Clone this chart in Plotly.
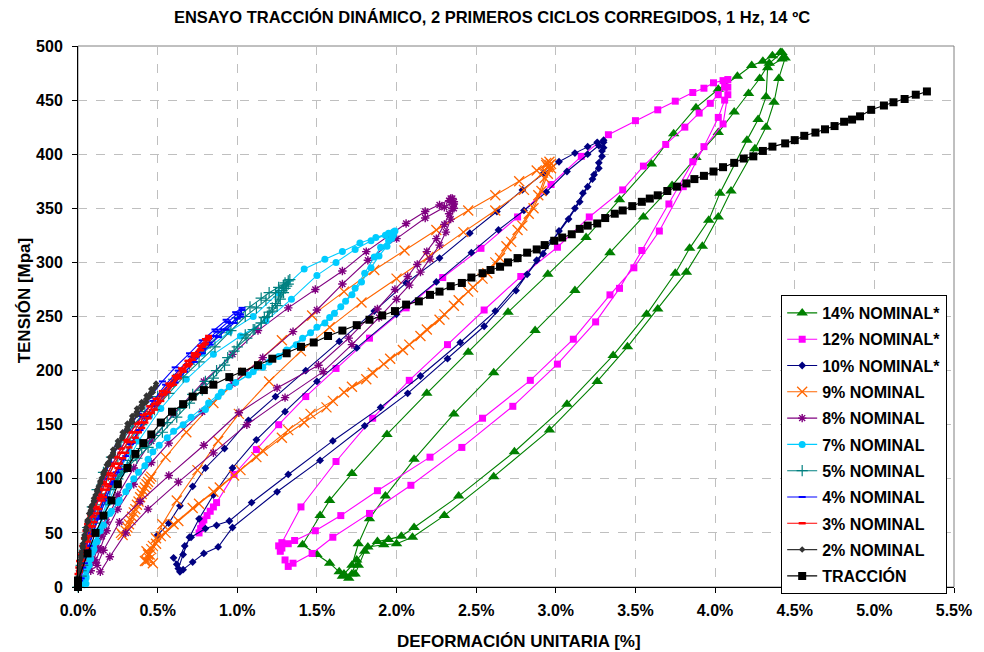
import plotly.graph_objects as go

# ---------------- DATA (strain %, stress MPa) ----------------
names = ["14% NOMINAL*", "12% NOMINAL*", "10% NOMINAL*", "9% NOMINAL", "8% NOMINAL",
         "7% NOMINAL", "5% NOMINAL", "4% NOMINAL", "3% NOMINAL", "2% NOMINAL", "TRACCIÓN"]

s14 = [(1.66,10),(1.64,14),(1.58,22),(1.50,30),(1.41,39),(1.52,66),(1.58,80),(1.72,105),(1.94,141),(2.19,179),
       (2.45,217),(2.70,254),(2.95,289),(3.19,323),(3.40,358),(3.60,391),(3.74,419),(3.88,443),(4.02,460),(4.14,472),
       (4.23,482),(4.30,486),(4.36,491),(4.41,494),
       (4.44,489),(4.40,470),(4.37,448),(4.32,425),(4.25,405),(4.10,366),(4.02,342),(3.92,315),(3.82,291),(3.64,257),
       (3.45,222),(3.26,190),(2.96,145),(2.61,102),(2.30,66),(2.10,46),(2.00,40),(1.92,39),(1.82,37),(1.75,25),
       (1.72,12),(1.70,8),(1.67,12),
       (1.72,20),(1.76,40),(1.83,63),(1.93,84),(2.11,118),(2.36,160),(2.61,198),(2.87,237),(3.12,274),(3.34,309),
       (3.55,342),(3.73,371),(3.88,397),(4.02,420),(4.12,439),(4.21,456),(4.28,470),(4.34,484),(4.42,494),
       (4.42,488),(4.33,480),(4.32,453),(4.27,432),(4.20,413),(4.03,364),(3.96,339),(3.84,313),(3.75,290),(3.57,252),
       (3.36,214),(3.07,169),(2.74,125),(2.39,84),(2.11,55),(2.03,47),(1.95,44),(1.88,42),(1.80,33),(1.76,20),(1.74,12)]

s12 = [(0.76,50),(0.77,54),(0.78,58),(0.79,62),(0.81,66),(0.83,70),(0.85,74),(0.87,78),(0.98,104),(1.12,127),
       (1.26,150),(1.43,176),(1.62,202),(1.83,230),(2.06,258),(2.29,286),(2.53,313),(2.76,342),(2.97,372),(3.16,398),
       (3.33,418),(3.50,431),(3.64,441),(3.75,449),(3.86,457),(3.93,461),(3.99,466),(4.05,468),(4.08,469),
       (4.08,462),(4.06,450),(4.02,434),(3.93,407),(3.80,370),(3.65,329),(3.49,295),(3.34,270),(3.11,229),(2.84,191),
       (2.54,156),(2.21,120),(1.88,89),(1.65,66),(1.49,52),(1.36,43),(1.32,40),(1.28,36),(1.27,33),(1.26,38),
       (1.28,41),(1.40,74),(1.62,116),(1.85,156),(2.08,191),(2.32,224),(2.55,256),(2.78,287),(3.01,314),(3.21,342),
       (3.42,367),(3.55,389),(3.69,409),(3.81,425),(3.90,438),(3.97,447),(4.02,455),(4.06,462),
       (4.08,455),(4.05,428),(3.86,393),(3.71,354),(3.54,311),(3.40,276),(3.25,245),(3.01,206),(2.73,167),(2.41,129),
       (2.09,94),(1.83,68),(1.60,46),(1.47,31),(1.35,22),(1.32,19),(1.30,25)]

s10 = [(0.50,48),(0.57,59),(0.64,75),(0.72,93),(0.80,110),(0.92,128),(1.07,154),(1.24,176),(1.43,200),(1.64,227),
       (1.86,255),(2.06,281),(2.27,304),(2.46,327),(2.63,347),(2.79,367),(2.92,382),(3.02,393),(3.12,401),(3.20,407),
       (3.26,411),(3.30,413),
       (3.30,406),(3.29,398),(3.27,387),(3.23,377),(3.17,364),(3.12,350),(3.02,329),(2.92,308),(2.82,289),(2.62,255),
       (2.40,226),(2.15,195),(1.90,166),(1.60,135),(1.32,104),(1.09,78),(0.95,61),(0.87,57),(0.80,54),(0.71,46),
       (0.67,38),(0.62,21),(0.60,27),(0.63,17),
       (0.66,30),(0.70,46),(0.76,63),(0.85,85),(0.97,110),(1.12,136),(1.30,162),(1.50,190),(1.75,221),(2.00,252),
       (2.25,282),(2.47,309),(2.64,330),(2.80,348),(2.94,365),(3.07,384),(3.20,400),(3.27,408),(3.30,411),
       (3.29,403),(3.27,392),(3.24,381),(3.20,370),(3.15,356),(3.08,340),(2.98,320),(2.88,302),(2.75,274),(2.55,241),
       (2.32,211),(2.07,179),(1.80,149),(1.52,117),(1.25,88),(0.97,55),(0.88,37),(0.79,31),(0.72,23),(0.66,16),(0.64,14)]

s9 = [(0.28,48),(0.30,52),(0.27,50),(0.31,55),(0.32,58),(0.33,62),(0.34,65),(0.35,69),(0.36,72),(0.37,76),
      (0.38,79),(0.39,83),(0.40,86),(0.41,89),(0.42,92),(0.43,95),(0.44,97),(0.45,100),(0.46,102),
      (0.55,120),(0.68,143),(0.85,170),(1.05,198),(1.28,228),(1.47,251),(1.67,273),(1.86,293),(2.05,311),(2.25,330),
      (2.45,348),(2.62,362),(2.77,375),(2.88,385),(2.94,390),(2.96,393),(2.95,388),(2.97,391),
      (2.93,378),(2.89,362),(2.83,345),(2.76,330),(2.69,315),(2.62,300),(2.54,285),(2.45,273),(2.36,260),(2.27,247),
      (2.15,232),(2.04,219),(1.92,206),(1.81,192),(1.67,180),(1.56,166),(1.42,152),(1.28,138),(1.12,120),(0.98,103),
      (0.85,88),(0.72,73),(0.60,58),(0.52,47),(0.47,38),(0.44,30),(0.42,24),(0.45,26),(0.43,33),
      (0.46,35),(0.49,45),(0.53,58),(0.62,80),(0.75,108),(0.88,135),(1.01,160),(1.20,190),(1.40,218),(1.58,240),
      (1.78,263),(2.00,285),(2.20,305),(2.42,328),(2.62,348),(2.80,367),(2.92,383),(2.96,390),(2.94,392),(2.97,387),
      (2.95,382),(2.91,366),(2.86,350),(2.79,334),(2.72,319),(2.65,304),(2.57,290),(2.48,277),(2.39,265),(2.30,252),
      (2.19,238),(2.08,224),(1.96,211),(1.85,198),(1.72,185),(1.60,172),(1.46,160),(1.32,145),(1.16,126),(1.02,108),
      (0.89,92),(0.76,77),(0.63,61),(0.55,50),(0.49,40),(0.45,30),(0.43,24),(0.47,22)]

s8 = [(0.08,15),(0.10,25),(0.12,35),(0.15,47),(0.18,60),(0.25,85),(0.35,110),(0.46,135),(0.60,160),(0.79,190),
      (0.97,215),(1.13,237),(1.32,258),(1.49,275),(1.66,292),(1.81,310),(1.95,325),(2.06,336),(2.18,347),(2.27,353),
      (2.33,357),(2.35,359),(2.36,354),
      (2.35,350),(2.33,345),(2.30,335),(2.25,322),(2.19,310),(2.13,298),(2.07,287),(1.99,275),(1.88,257),(1.70,230),
      (1.51,205),(1.25,184),(1.01,161),(0.79,131),(0.57,103),(0.39,79),(0.26,60),(0.16,34),(0.12,20),(0.11,23),
      (0.14,35),(0.18,52),(0.25,72),(0.35,95),(0.46,115),(0.57,133),(0.78,162),(0.97,188),(1.16,212),(1.35,236),
      (1.50,256),(1.66,280),(1.82,302),(2.00,322),(2.18,341),(2.30,351),(2.36,356),(2.34,359),
      (2.36,350),(2.34,340),(2.31,328),(2.27,316),(2.21,303),(2.15,291),(2.08,279),(2.00,266),(1.89,249),(1.72,224),
      (1.54,199),(1.30,175),(1.06,150),(0.85,124),(0.63,97),(0.44,72),(0.30,50),(0.20,28),(0.14,14)]

s7 = [(0.03,3),(0.05,15),(0.07,25),(0.10,40),(0.15,65),(0.22,95),(0.32,125),(0.45,158),(0.60,188),(0.78,216),
      (0.95,236),(1.10,250),(1.26,272),(1.42,294),(1.55,303),(1.66,310),(1.77,318),(1.87,323),(1.95,327),(1.99,329),
      (1.98,325),(1.95,320),(1.90,314),(1.86,305),(1.80,290),(1.74,276),(1.68,264),(1.61,253),(1.55,244),(1.46,235),
      (1.37,224),(1.26,213),(1.16,203),(1.07,196),(0.95,185),(0.88,176),(0.80,164),(0.66,150),(0.56,138),(0.47,125),
      (0.42,112),(0.35,100),(0.30,88),(0.25,78),(0.20,68),(0.14,52),(0.10,35),(0.07,20),(0.05,8),
      (0.05,3),(0.06,18),(0.09,32),(0.13,52),(0.19,78),(0.27,105),(0.38,135),(0.52,165),(0.68,192),(0.85,215),
      (1.02,232),(1.18,246),(1.34,266),(1.50,288),(1.62,300),(1.74,312),(1.84,320),(1.93,325),(1.98,328),
      (1.97,322),(1.94,315),(1.89,306),(1.84,295),(1.78,282),(1.72,270),(1.65,259),(1.58,249),(1.50,240),(1.41,230),
      (1.31,219),(1.20,208),(1.10,199),(0.99,189),(0.90,180),(0.82,170),(0.71,157),(0.60,144),(0.51,131),(0.44,118),
      (0.38,106),(0.32,93),(0.26,80),(0.21,70),(0.16,57),(0.12,42),(0.08,26),(0.05,10),(0.04,2)]

s5 = [(0.00,0),(0.02,20),(0.04,38),(0.06,55),(0.09,74),(0.12,90),(0.16,106),(0.21,120),(0.27,134),(0.34,148),
      (0.42,162),(0.50,176),(0.60,192),(0.70,206),(0.80,221),(0.90,235),(1.00,249),(1.08,259),(1.15,267),(1.20,272),
      (1.26,277),(1.30,281),(1.33,284),
      (1.32,280),(1.30,276),(1.28,274),(1.26,268),(1.24,262),(1.22,258),(1.20,254),(1.17,249),(1.15,244),(1.10,238),
      (1.05,233),(0.98,218),(0.92,205),(0.85,193),(0.78,182),(0.70,170),(0.62,157),(0.53,143),(0.44,129),(0.37,119),
      (0.31,111),(0.25,100),(0.20,90),(0.15,76),(0.10,59),(0.07,47),(0.04,34),(0.02,15),
      (0.02,10),(0.04,30),(0.07,50),(0.10,68),(0.14,86),(0.19,103),(0.25,119),(0.32,135),(0.40,150),(0.48,164),
      (0.57,179),(0.66,194),(0.76,208),(0.86,222),(0.96,237),(1.05,250),(1.12,258),(1.18,265),(1.24,272),(1.29,279),
      (1.32,283),
      (1.31,278),(1.29,272),(1.27,266),(1.25,260),(1.22,255),(1.19,250),(1.15,244),(1.11,238),(1.06,230),(1.00,222),
      (0.94,212),(0.87,200),(0.80,190),(0.72,178),(0.64,165),(0.56,152),(0.48,140),(0.40,128),(0.33,117),(0.27,106),
      (0.22,95),(0.17,82),(0.12,66),(0.08,50),(0.05,36),(0.03,20)]

s4 = [(0.00,2),(0.01,15),(0.02,25),(0.04,40),(0.06,55),(0.09,70),(0.12,85),(0.16,100),(0.20,115),(0.25,130),
      (0.31,145),(0.38,160),(0.45,175),(0.53,190),(0.61,203),(0.70,216),(0.78,228),(0.86,238),(0.93,247),(0.99,254),
      (1.03,258),
      (1.02,252),(1.00,248),(0.96,244),(0.91,238),(0.86,232),(0.82,226),(0.78,220),(0.73,212),(0.69,205),(0.63,196),
      (0.57,187),(0.52,177),(0.47,167),(0.42,156),(0.38,145),(0.33,132),(0.28,118),(0.24,106),(0.20,95),(0.16,80),
      (0.12,63),(0.09,49),(0.06,35),(0.03,18),(0.01,6),
      (0.01,8),(0.02,20),(0.04,35),(0.06,50),(0.09,66),(0.12,80),(0.16,96),(0.21,112),(0.27,128),(0.33,143),
      (0.40,158),(0.47,172),(0.55,187),(0.63,200),(0.71,213),(0.79,225),(0.87,236),(0.94,245),(1.00,252),(1.03,256),
      (1.02,250),(0.98,244),(0.93,238),(0.88,231),(0.83,224),(0.78,216),(0.73,208),(0.67,199),(0.61,189),(0.55,179),
      (0.49,168),(0.44,157),(0.39,145),(0.34,133),(0.30,121),(0.26,109),(0.22,97),(0.18,83),(0.14,68),(0.10,52),
      (0.07,38),(0.04,22),(0.02,8)]

s3 = [(0.00,12),(0.005,18),(0.01,24),(0.02,30),(0.03,38),(0.04,45),(0.05,52),(0.06,58),(0.08,66),(0.10,74),
      (0.12,82),(0.14,90),(0.16,97),(0.18,104),(0.21,112),(0.24,120),(0.27,128),(0.30,136),(0.33,143),(0.37,151),
      (0.41,159),(0.45,167),(0.49,174),(0.53,181),(0.57,188),(0.61,195),(0.65,202),(0.69,209),(0.73,216),(0.77,223),
      (0.80,229),(0.82,232),
      (0.81,228),(0.79,224),(0.77,219),(0.75,215),(0.72,210),(0.69,204),(0.66,199),(0.63,193),(0.60,187),(0.56,180),
      (0.52,172),(0.48,164),(0.44,156),(0.40,147),(0.36,138),(0.32,129),(0.28,119),(0.25,110),(0.21,100),(0.18,90),
      (0.15,80),(0.12,68),(0.09,56),(0.06,42),(0.04,30),(0.02,20),(0.01,14),
      (0.02,24),(0.03,33),(0.05,45),(0.07,56),(0.09,65),(0.11,74),(0.14,85),(0.17,95),(0.20,105),(0.23,114),
      (0.27,124),(0.31,134),(0.35,143),(0.39,152),(0.43,160),(0.48,169),(0.53,178),(0.58,187),(0.63,196),(0.68,205),
      (0.73,214),(0.78,222),(0.82,230),
      (0.80,225),(0.77,219),(0.74,213),(0.70,206),(0.66,200),(0.62,193),(0.58,186),(0.54,178),(0.50,170),(0.46,161),
      (0.42,152),(0.38,143),(0.34,134),(0.30,124),(0.26,114),(0.22,103),(0.19,93),(0.16,83),(0.13,72),(0.10,60),
      (0.07,47),(0.05,36),(0.03,25),(0.01,15)]

s2 = [(0.00,3),(0.005,10),(0.01,18),(0.015,25),(0.02,32),(0.03,40),(0.04,48),(0.05,55),(0.06,62),(0.07,68),
      (0.08,74),(0.10,82),(0.12,90),(0.14,98),(0.16,106),(0.18,113),(0.20,120),(0.22,127),(0.25,135),(0.28,143),
      (0.31,151),(0.34,158),(0.37,165),(0.40,171),(0.43,177),(0.46,183),(0.49,188),
      (0.48,184),(0.46,179),(0.44,175),(0.42,170),(0.40,165),(0.37,159),(0.34,152),(0.31,145),(0.28,138),(0.25,130),
      (0.22,122),(0.19,113),(0.16,104),(0.14,96),(0.12,88),(0.10,79),(0.08,70),(0.06,60),(0.05,52),(0.04,44),
      (0.03,36),(0.02,27),(0.01,17),(0.005,9),(0.00,4),
      (0.00,5),(0.01,14),(0.015,22),(0.02,29),(0.03,38),(0.04,46),(0.05,53),(0.06,60),(0.075,68),(0.09,76),
      (0.11,85),(0.13,93),(0.15,101),(0.17,108),(0.19,115),(0.22,124),(0.25,132),(0.28,140),(0.31,148),(0.34,155),
      (0.37,162),(0.40,168),(0.43,174),(0.46,180),(0.49,186),
      (0.47,180),(0.45,176),(0.43,171),(0.40,166),(0.37,160),(0.34,153),(0.31,146),(0.28,139),(0.25,131),(0.22,123),
      (0.19,114),(0.16,105),(0.14,97),(0.12,89),(0.10,80),(0.08,71),(0.06,61),(0.05,53),(0.04,45),(0.03,37),
      (0.02,28),(0.01,18),(0.00,8)]

trac_x = [0.00, 0.00, 0.06, 0.11, 0.16, 0.21, 0.25, 0.31, 0.36, 0.41, 0.46, 0.52, 0.59, 0.66, 0.72, 0.79, 0.85,
          0.95, 1.03, 1.13, 1.22, 1.31, 1.40, 1.48, 1.57, 1.66, 1.75, 1.83, 1.91, 1.99, 2.06, 2.14, 2.21, 2.27,
          2.34, 2.41, 2.47, 2.54, 2.59, 2.65, 2.70, 2.76, 2.82, 2.88, 2.93, 2.99, 3.04, 3.10, 3.15, 3.20, 3.26,
          3.31, 3.37, 3.42, 3.48, 3.54, 3.59, 3.64, 3.70, 3.76, 3.82, 3.87, 3.93, 3.99, 4.05, 4.12, 4.18, 4.24,
          4.30, 4.36, 4.44, 4.50, 4.56, 4.63, 4.69, 4.75, 4.81, 4.86, 4.91, 4.98, 5.06, 5.12, 5.19, 5.26, 5.33]
trac_y = [0, 6, 31, 50, 66, 80, 95, 110, 123, 133, 141, 152, 162, 169, 176, 182, 187,
          194, 199, 205, 211, 216, 222, 226, 232, 237, 242, 247, 251, 255, 261, 264, 270, 273,
          278, 281, 286, 290, 293, 296, 300, 304, 309, 312, 316, 320, 323, 326, 331, 334, 336,
          341, 345, 348, 352, 356, 359, 362, 366, 370, 373, 377, 380, 384, 388, 392, 396, 398,
          403, 407, 410, 413, 417, 420, 423, 426, 430, 432, 435, 441, 445, 448, 451, 455, 458]

x_ticks = [0.0, 0.5, 1.0, 1.5, 2.0, 2.5, 3.0, 3.5, 4.0, 4.5, 5.0, 5.5]
x_ticklabels = ["0.0%", "0.5%", "1.0%", "1.5%", "2.0%", "2.5%", "3.0%", "3.5%", "4.0%", "4.5%", "5.0%", "5.5%"]
y_ticks = [0, 50, 100, 150, 200, 250, 300, 350, 400, 450, 500]

# ---------------- STYLE ----------------
FONT = "Liberation Sans, Arial, sans-serif"
styles = [
    dict(color="#008000", symbol="triangle-up", size=10, mlw=0),
    dict(color="#FF00FF", symbol="square", size=7, mlw=0),
    dict(color="#000080", symbol="diamond", size=6, mlw=0),
    dict(color="#FF6600", symbol="x-thin-open", size=10, mlw=1.3),
    dict(color="#800080", symbol="asterisk-open", size=7, mlw=1.4),
    dict(color="#00CCFF", symbol="circle", size=7, mlw=0),
    dict(color="#008080", symbol="cross-thin-open", size=8, mlw=1.2),
    dict(color="#0000FF", symbol="line-ew-open", size=5, mlw=2),
    dict(color="#FF0000", symbol="line-ew-open", size=5, mlw=2.5),
    dict(color="#333333", symbol="diamond", size=5, mlw=0),
    dict(color="#000000", symbol="square", size=8, mlw=0),
]

data = [s14, s12, s10, s9, s8, s7, s5, s4, s3, s2, list(zip(trac_x, trac_y))]

fig = go.Figure()
for i, (nm, pts, st) in enumerate(zip(names, data, styles)):
    xs = [p[0] for p in pts]
    ys = [p[1] for p in pts]
    fig.add_trace(go.Scatter(
        x=xs, y=ys, name=nm, mode="lines+markers", legendgroup=f"g{i}",
        cliponaxis=False,
        line=dict(color=st["color"], width=1.1),
        marker=dict(symbol=st["symbol"], size=st["size"], color=st["color"],
                    line=dict(color=st["color"], width=st["mlw"])),
    ))

fig.update_layout(
    width=984, height=652,
    margin=dict(l=78, r=24, t=46, b=65),
    paper_bgcolor="white", plot_bgcolor="white",
    font=dict(family=FONT, color="black"),
    title=dict(text="ENSAYO TRACCIÓN DINÁMICO, 2 PRIMEROS CICLOS CORREGIDOS, 1 Hz, 14 ºC",
               x=0.5, xref="container", xanchor="center",
               y=1 - 17 / 652, yref="container", yanchor="middle",
               font=dict(family=FONT, size=16.5, weight="bold", color="black")),
    showlegend=True,
    legend=dict(x=(786 - 78) / 882, y=(587 - 295) / 541, xanchor="left", yanchor="top",
                bgcolor="white", bordercolor="black", borderwidth=1,
                font=dict(family=FONT, size=16, weight="bold", color="black"),
                traceorder="grouped", tracegroupgap=2.5, itemwidth=30),
    xaxis=dict(range=[0, 5.5], tickvals=x_ticks, ticktext=x_ticklabels,
               showgrid=True, gridcolor="#BFBFBF", griddash="dash", gridwidth=1,
               showline=True, linecolor="black", linewidth=1, zeroline=False,
               ticks="outside", ticklen=5, tickcolor="black", ticklabelstandoff=4,
               tickfont=dict(family=FONT, size=16, weight="bold", color="black")),
    yaxis=dict(range=[0, 500], tickvals=y_ticks,
               showgrid=True, gridcolor="#BFBFBF", griddash="dash", gridwidth=1,
               showline=True, linecolor="black", linewidth=1, zeroline=False,
               ticks="outside", ticklen=5, tickcolor="black", ticklabelstandoff=6,
               tickfont=dict(family=FONT, size=16, weight="bold", color="black")),
    shapes=[dict(type="rect", xref="paper", yref="paper", x0=0, x1=1, y0=0, y1=1,
                 line=dict(color="#808080", width=1), layer="below")],
    annotations=[
        dict(text="DEFORMACIÓN UNITARIA [%]", xref="paper", yref="paper",
             x=(522 - 78) / 882, y=(587 - 641) / 541, xanchor="center", yanchor="middle",
             showarrow=False, font=dict(family=FONT, size=17, weight="bold", color="black")),
        dict(text="TENSIÓN [Mpa]", xref="paper", yref="paper", textangle=-90,
             x=(24 - 78) / 882, y=(587 - 300) / 541, xanchor="center", yanchor="middle",
             showarrow=False, font=dict(family=FONT, size=17, weight="bold", color="black")),
    ],
)

fig.write_html("out.html")
